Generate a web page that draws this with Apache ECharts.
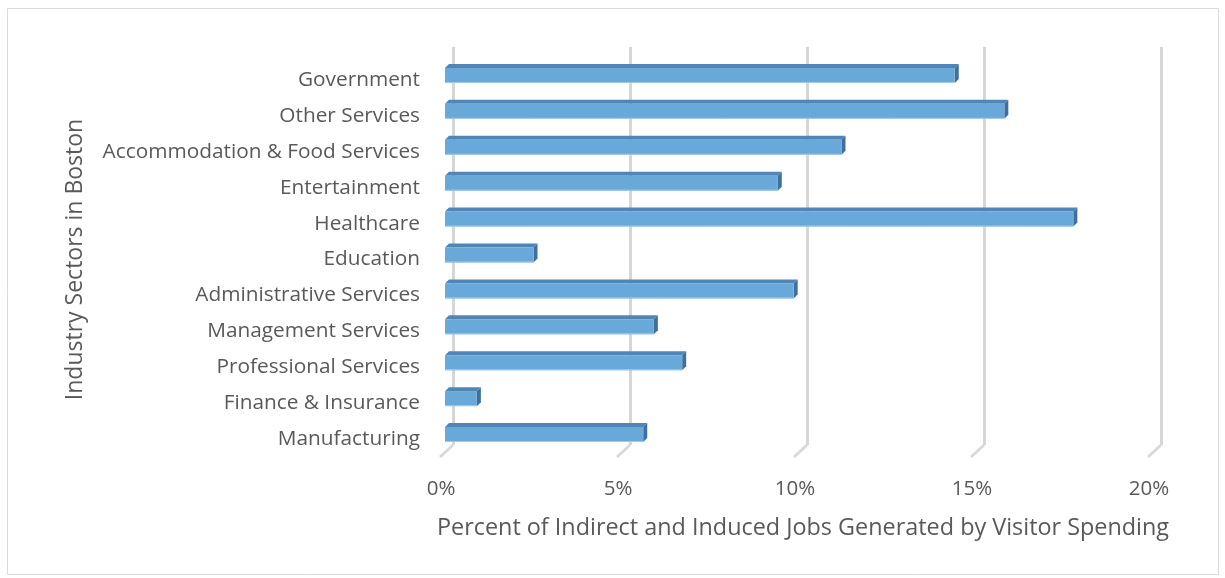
<!DOCTYPE html>
<html>
<head>
<meta charset="utf-8">
<script src="https://cdn.jsdelivr.net/npm/echarts@6/dist/echarts.min.js"></script>
<style>
html,body{margin:0;padding:0;background:#fff;}
#chart{width:1225px;height:578px;}
</style>
</head>
<body>
<div id="chart"></div>
<script>
// Categories listed top to bottom
const categories = [
  'Government',
  'Other Services',
  'Accommodation & Food Services',
  'Entertainment',
  'Healthcare',
  'Education',
  'Administrative Services',
  'Management Services',
  'Professional Services',
  'Finance & Insurance',
  'Manufacturing'
];
// Percent of indirect and induced jobs
const values = [14.4, 15.8, 11.2, 9.4, 17.75, 2.5, 9.85, 5.9, 6.7, 0.9, 5.6];
const xTicks = [0, 5, 10, 15, 20];

const FONT = 'Open Sans';
const TXT = '#595959';

const chart = echarts.init(document.getElementById('chart'));

const barData = values.map((v, i) => [v, i]);
const tickData = xTicks.map(t => [t, 0]);

chart.setOption({
  animation: false,
  textStyle: { fontFamily: FONT },
  graphic: [{
    type: 'rect',
    shape: { x: 7.5, y: 8.5, width: 1211, height: 566 },
    style: { fill: 'none', stroke: '#d9d9d9', lineWidth: 1 },
    silent: true, z: -10
  }],
  grid: [
    { left: 445, right: 72, top: 62, bottom: 121 },   // front plane (bars, labels)
    { left: 453, right: 64, top: 47, bottom: 133 }    // back wall (gridlines)
  ],
  xAxis: [
    {
      gridIndex: 0, type: 'value', min: 0, max: 20, interval: 5,
      axisLine: { show: false }, axisTick: { show: false }, splitLine: { show: false },
      axisLabel: {
        formatter: '{value}%', color: TXT, fontSize: 20.5, fontFamily: FONT,
        margin: 22, padding: [0, 8, 0, 0]
      },
      name: 'Percent of Indirect and Induced Jobs Generated by Visitor Spending',
      nameLocation: 'middle', nameGap: 60,
      nameTextStyle: { color: TXT, fontSize: 23.4, fontFamily: FONT, padding: [0, 0, 0, 8] }
    },
    {
      gridIndex: 1, type: 'value', min: 0, max: 20, interval: 5,
      axisLine: { show: false }, axisTick: { show: false }, axisLabel: { show: false },
      splitLine: { show: true, lineStyle: { color: '#d6d6d6', width: 3 } }
    }
  ],
  yAxis: [
    {
      gridIndex: 0, type: 'category', data: categories, inverse: true,
      axisLine: { show: false }, axisTick: { show: false },
      axisLabel: {
        color: TXT, fontSize: 20.8, fontFamily: FONT, margin: 25,
        verticalAlign: 'middle', lineHeight: 20, padding: [4, 0, 0, 0]
      },
      name: 'Industry Sectors in Boston', nameLocation: 'middle', nameGap: 358,
      nameTextStyle: { color: TXT, fontSize: 23, fontFamily: FONT }
    },
    {
      gridIndex: 1, type: 'value', show: false
    }
  ],
  series: [
    {
      // floor diagonal tick lines
      type: 'custom', xAxisIndex: 0, yAxisIndex: 0,
      data: tickData,
      encode: { x: 0, y: 1 },
      silent: true, z: 1,
      renderItem: function (params, api) {
        const p = api.coord([api.value(0), 10]);
        const bottom = p[1] + api.size([0, 1])[1] / 2;
        return {
          type: 'line',
          shape: { x1: p[0] + 8, y1: bottom - 12, x2: p[0] - 5, y2: bottom },
          style: { stroke: '#d9d9d9', lineWidth: 3 }
        };
      }
    },
    {
      type: 'custom', xAxisIndex: 0, yAxisIndex: 0,
      data: barData,
      encode: { x: 0, y: 1 },
      z: 5,
      renderItem: function (params, api) {
        const v = api.value(0), c = api.value(1);
        const p0 = api.coord([0, c]);
        const p1 = api.coord([v, c]);
        const yc = p0[1] - 4.5;
        const h = 15, d = 4;
        const x0 = p0[0], x1 = p1[0];
        const yT = yc - h / 2, yB = yc + h / 2;
        return {
          type: 'group',
          children: [
            {
              type: 'polygon',
              shape: { points: [[x0, yT], [x0 + d, yT - d], [x1 + d, yT - d], [x1, yT]] },
              style: { fill: '#4f86b6' }
            },
            {
              type: 'polygon',
              shape: { points: [[x1, yT], [x1 + d, yT - d], [x1 + d, yB - d], [x1, yB]] },
              style: { fill: '#3f6f9c' }
            },
            {
              type: 'rect',
              shape: { x: x0, y: yT, width: x1 - x0, height: h },
              style: { fill: '#69a9da' }
            },
            {
              type: 'line',
              shape: { x1: x0, y1: yB - 0.5, x2: x1, y2: yB - 0.5 },
              style: { stroke: '#a9c9e6', lineWidth: 1 }
            }
          ]
        };
      }
    }
  ]
});
</script>
</body>
</html>
